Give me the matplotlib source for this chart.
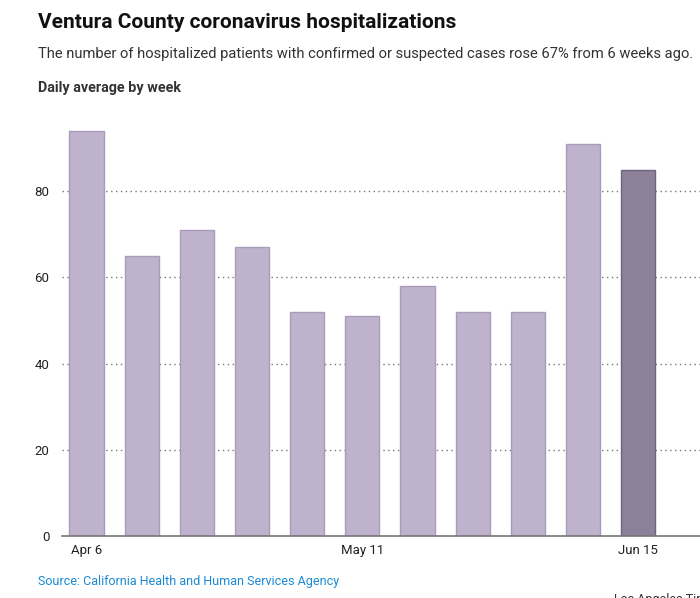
import matplotlib.pyplot as plt

# weekly daily-average hospitalizations
weeks = ["Apr 6", "Apr 13", "Apr 20", "Apr 27", "May 4", "May 11",
         "May 18", "May 25", "Jun 1", "Jun 8", "Jun 15"]
patients = [94, 65, 71, 67, 52, 51, 58, 52, 52, 91, 85]
shown_ticks = ["Apr 6", "May 11", "Jun 15"]

plt.rcParams['font.family'] = ['Roboto', 'DejaVu Sans']

fig = plt.figure(figsize=(7, 5.98), dpi=100)
ax = fig.add_axes([62 / 700, 1 - 536 / 598, 1 - 62 / 700, 431 / 598])

x = list(range(len(weeks)))
colors = ['#bfb2cc'] * (len(weeks) - 1) + ['#8d8199']
edges = ['#a99bbb'] * (len(weeks) - 1) + ['#6e6281']
ax.bar(x, patients, width=0.62, color=colors, edgecolor=edges, linewidth=1, zorder=3)

ax.set_ylim(0, 100)
ax.set_xlim(-0.444, 11.12)
ax.set_yticks([0, 20, 40, 60, 80])
ax.grid(axis='y', linestyle=(0, (1, 2.5)), color='#777777', linewidth=1, zorder=0)
ax.set_xticks([weeks.index(w) for w in shown_ticks])
ax.set_xticklabels(shown_ticks)
ax.tick_params(axis='both', length=0, labelsize=9.5, colors='#222222')
ax.tick_params(axis='y', pad=9)
ax.tick_params(axis='x', pad=6)
for s in ['top', 'right', 'left']:
    ax.spines[s].set_visible(False)
ax.spines['bottom'].set_color('#777777')
ax.spines['bottom'].set_linewidth(1.2)
ax.spines['bottom'].set_zorder(4)

fig.text(38 / 700, 1 - 23 / 598, "Ventura County coronavirus hospitalizations",
         fontsize=15, fontweight='bold', color='#111111', va='center')
fig.text(38 / 700, 1 - 54 / 598,
         "The number of hospitalized patients with confirmed or suspected cases rose 67% from 6 weeks ago.",
         fontsize=10.6, color='#333333', va='center')
fig.text(38 / 700, 1 - 88 / 598, "Daily average by week",
         fontsize=10.4, fontweight='bold', color='#333333', va='center')
fig.text(38 / 700, 1 - 581 / 598, "Source: California Health and Human Services Agency",
         fontsize=9.0, color='#1a8ad4', va='center')
fig.text(614 / 700, 1 - 599 / 598, "Los Angeles Times",
         fontsize=9.0, color='#333333', va='center')

fig.savefig('out.png', dpi=100)
